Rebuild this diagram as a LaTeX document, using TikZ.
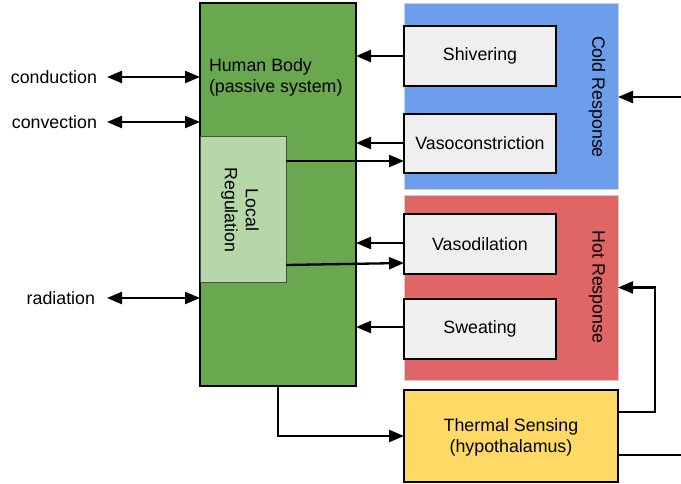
\documentclass[tikz,border=0pt]{standalone}
\usepackage{fontspec}
\setmainfont{Liberation Sans}
\usetikzlibrary{arrows.meta,calc}
\definecolor{bodygreen}{HTML}{6AA84F}
\definecolor{localgreen}{HTML}{B6D7A8}
\definecolor{coldblue}{HTML}{6D9EEB}
\definecolor{hotred}{HTML}{E06666}
\definecolor{sensyellow}{HTML}{FFD966}
\definecolor{boxgray}{HTML}{EFEFEF}
\definecolor{rimgray}{HTML}{D0D0D0}
\begin{document}
\begin{tikzpicture}[x=1pt,y=-1pt,
  every node/.style={font=\fontsize{17.8}{21}\selectfont, inner sep=0pt, outer sep=0pt},
  blk/.style={draw=black, line width=1.6pt, anchor=north west},
  region/.style={draw=rimgray, line width=0.8pt, anchor=north west},
  actbox/.style={blk, fill=boxgray, minimum width=152pt, minimum height=60pt},
  conn/.style={line width=2.3pt, -{Triangle[length=15pt,width=12pt]}},
  dconn/.style={line width=2.3pt, {Triangle[length=15pt,width=12pt]}-{Triangle[length=15pt,width=12pt]}},
  plain/.style={line width=2.3pt},
  lbl/.style={anchor=east}]
\useasboundingbox (0,0) rectangle (681,484);
% regions
\node[region, fill=coldblue, minimum width=214pt, minimum height=186pt] (cold) at (404,3) {};
\node[region, fill=hotred, minimum width=214pt, minimum height=185pt] (hot) at (404,195) {};
\node[rotate=-90] (coldt) at (597,97) {Cold Response};
\node[rotate=-90] (hott) at (597,287) {Hot Response};
% body
\node[blk, fill=bodygreen, minimum width=156pt, minimum height=383pt] (body) at (200,3) {};
\node[blk, draw=black!70, line width=0.8pt, fill=localgreen, minimum width=86pt, minimum height=146pt] (local) at (200,136) {};
\node[anchor=west, align=left] (bodyt) at (209,77) {Human Body\\(passive system)};
\node[rotate=-90, align=center] (localt) at (240,210) {Local\\Regulation};
% actuators
\node[actbox] (shiv) at (404,26) {};
\node (shivt) at (shiv.center) {Shivering};
\node[actbox, minimum height=59pt] (vasoc) at (404,114) {};
\node (vasoct) at (vasoc.center) {Vasoconstriction};
\node[actbox] (vasod) at (404,214) {};
\node (vasodt) at (vasod.center) {Vasodilation};
\node[actbox] (sweat) at (404,299) {};
\node (sweatt) at (sweat.center) {Sweating};
% sensing
\node[blk, fill=sensyellow, minimum width=214pt, minimum height=92pt] (therm) at (404,390) {};
\node[align=center] (thermt) at (511,437) {Thermal Sensing\\(hypothalamus)};
% environment
\node[lbl] (cond) at (97,77) {conduction};
\node[lbl] (conv) at (97,122) {convection};
\node[lbl] (rad) at (95,298) {radiation};
\coordinate (coldin) at (681,97);
\coordinate (out) at (681,455);
% connectors
\draw[dconn] ($(cond.east)+(10,0)$) -- (cond.east -| body.west);
\draw[dconn] ($(conv.east)+(10,0)$) -- (conv.east -| body.west);
\draw[dconn] ($(rad.east)+(12,0)$) -- (rad.east -| body.west);
\draw[conn] (shiv.west) -- (shiv.west -| body.east);
\draw[conn] ($(vasoc.north west)+(0,29)$) -- ($(vasoc.north west)+(-48,29)$);
\draw[conn] ($(local.north east)+(0,25)$) -- ($(vasoc.north west)+(0,47)$);
\draw[conn] ($(vasod.north west)+(0,29)$) -- ($(vasod.north west)+(-48,29)$);
\draw[conn] ($(local.north east)+(0,129)$) -- ($(vasod.north west)+(0,49)$);
\draw[conn] ($(sweat.north west)+(0,28)$) -- ($(sweat.north west)+(-48,28)$);
\draw[conn] ($(body.south west)+(78,0)$) |- (therm.west);
\draw[conn] ($(therm.north east)+(0,22)$) -- ++(37,0) |- (hot.east);
\draw[plain] ($(therm.north east)+(0,65)$) -- (out);
\draw[conn] (coldin) -- (coldin -| cold.east);
\end{tikzpicture}
\end{document}
